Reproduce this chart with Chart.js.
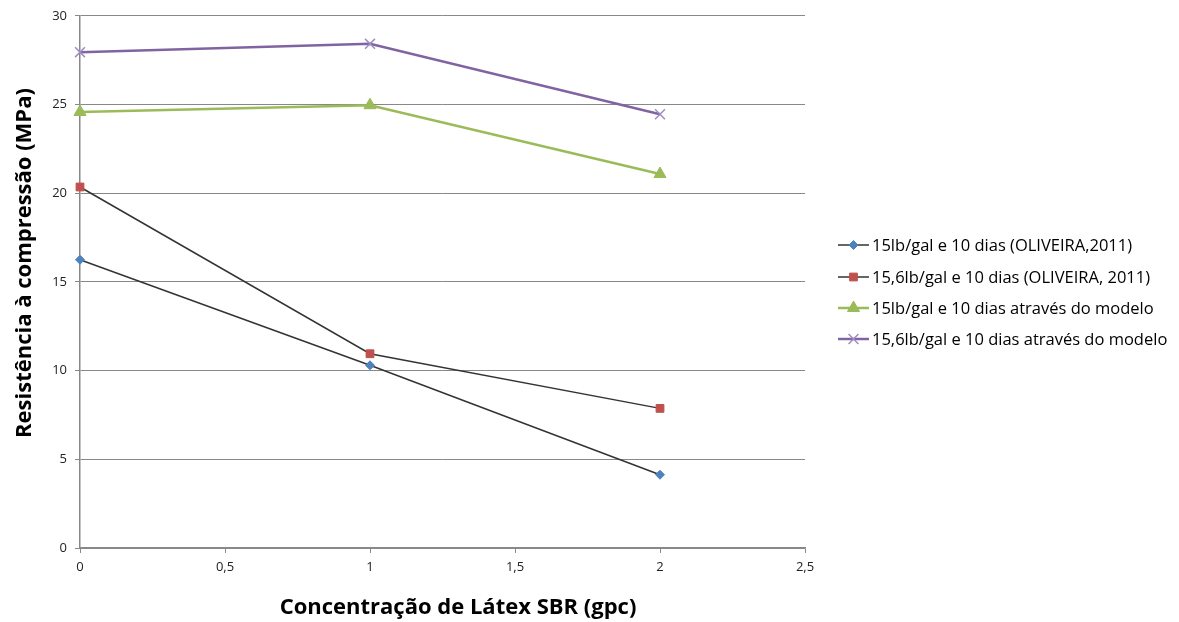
<!DOCTYPE html>
<html><head><meta charset="utf-8">
<script src="https://cdn.jsdelivr.net/npm/chart.js@4/dist/chart.umd.min.js"></script>
<style>html,body{margin:0;padding:0;background:#fff}#wrap{width:1179px;height:622px}</style>
</head><body><div id="wrap"><canvas id="c" width="1179" height="622"></canvas></div>
<script>
const xValues = [0, 1, 2];
const seriesNames = [
  "15lb/gal e 10 dias (OLIVEIRA,2011)",
  "15,6lb/gal e 10 dias (OLIVEIRA, 2011)",
  "15lb/gal e 10 dias através do modelo",
  "15,6lb/gal e 10 dias através do modelo"
];
const oliveira15 = [16.25, 10.3, 4.13];
const oliveira156 = [20.35, 10.95, 7.87];
const modelo15 = [24.58, 24.96, 21.08];
const modelo156 = [27.95, 28.42, 24.45];
const yTicks = [0, 5, 10, 15, 20, 25, 30];
const xTicks = [0, 0.5, 1, 1.5, 2, 2.5];
const xTitle = 'Concentração de Látex SBR (gpc)';
const yTitle = 'Resistência à compressão (MPa)';

const styles = [
  {line:'#333333', pt:'#4F81BD', ps:'rectRot', r:4.5, bw:1.5},
  {line:'#333333', pt:'#C0504D', ps:'rect', r:5.5, bw:1.5},
  {line:'#9BBB59', pt:'#9BBB59', ps:'triangle', r:7, bw:2.5},
  {line:'#8064A2', pt:'#8064A2', ps:'crossRot', r:7, bw:2.5}
];
const allSeries = [oliveira15, oliveira156, modelo15, modelo156];
const datasets = allSeries.map((vals, i) => ({
  label: seriesNames[i],
  data: vals.map((v, j) => ({x: xValues[j], y: v})),
  borderColor: styles[i].line,
  borderWidth: styles[i].bw,
  pointStyle: styles[i].ps,
  pointRadius: styles[i].r,
  pointBackgroundColor: styles[i].pt,
  pointBorderColor: i === 3 ? '#9F8CC0' : styles[i].pt,
  pointBorderWidth: i === 3 ? 1.5 : 1,
  clip: false,
  tension: 0
}));

const legendPlugin = {
  id: 'customLegend',
  afterDraw(chart) {
    const ctx = chart.ctx;
    const x0 = 838, rows = [245, 277, 308, 339];
    ctx.save();
    ctx.font = '16.5px "Open Sans", sans-serif';
    ctx.textBaseline = 'middle';
    datasets.forEach((d, i) => {
      const y = rows[i];
      ctx.strokeStyle = styles[i].line;
      ctx.lineWidth = styles[i].bw;
      ctx.beginPath(); ctx.moveTo(x0, y); ctx.lineTo(x0 + 31, y); ctx.stroke();
      ctx.fillStyle = styles[i].pt;
      ctx.strokeStyle = i === 3 ? '#9F8CC0' : styles[i].pt;
      ctx.lineWidth = i === 3 ? 1.5 : 1;
      Chart.helpers.drawPoint(ctx, {pointStyle: styles[i].ps, radius: styles[i].r, borderWidth: ctx.lineWidth}, x0 + 15.5, y);
      ctx.fillStyle = '#000';
      ctx.fillText(d.label, x0 + 34, y + 1);
    });
    // axis titles
    ctx.font = 'bold 22px "Open Sans", sans-serif';
    ctx.textAlign = 'center';
    ctx.fillStyle = '#000';
    ctx.fillText(xTitle, 458, 608);
    ctx.translate(25, 263);
    ctx.rotate(-Math.PI / 2);
    ctx.fillText(yTitle, 0, 0);
    ctx.restore();
  }
};

new Chart(document.getElementById('c'), {
  type: 'line',
  data: {datasets},
  plugins: [legendPlugin],
  options: {
    responsive: false,
    animation: false,
    events: [],
    layout: {padding: {top: 14, right: 374, left: 0, bottom: 0}},
    plugins: {legend: {display: false}, tooltip: {enabled: false}},
    scales: {
      x: {
        type: 'linear', min: 0, max: 2.5,
        afterBuildTicks: s => { s.ticks = xTicks.map(v => ({value: v})); },
        afterFit: s => { s.height = 74; },
        grid: {drawOnChartArea: false, drawTicks: true, tickLength: 5, color: '#888'},
        border: {color: '#888', width: 1.5},
        ticks: {color: '#222', font: {family: '"Open Sans", sans-serif', size: 13}, padding: 6,
          callback: v => String(v).replace('.', ',')},
        title: {display: false}
      },
      y: {
        min: 0, max: 30,
        afterBuildTicks: s => { s.ticks = yTicks.map(v => ({value: v})); },
        afterFit: s => { s.width = 80; },
        grid: {color: '#888', lineWidth: 1, tickLength: 5},
        border: {color: '#888', width: 1.5},
        ticks: {color: '#222', font: {family: '"Open Sans", sans-serif', size: 13}, padding: 8},
        title: {display: false}
      }
    }
  }
});
</script></body></html>
